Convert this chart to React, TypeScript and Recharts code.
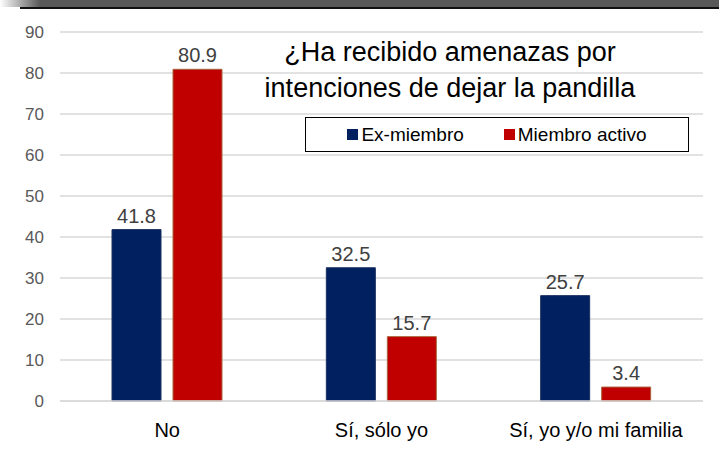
import { Bar, BarChart, CartesianGrid, LabelList, XAxis, YAxis } from "recharts";

const CATEGORIES = ["No", "Sí, sólo yo", "Sí, yo y/o mi familia"];
const EX_MIEMBRO = [41.8, 32.5, 25.7];
const MIEMBRO_ACTIVO = [80.9, 15.7, 3.4];
const Y_TICKS = [0, 10, 20, 30, 40, 50, 60, 70, 80, 90];

const SERIES = [
  { key: "ex", name: "Ex-miembro", color: "#002060", stroke: "#1a2f5e" },
  { key: "activo", name: "Miembro activo", color: "#C00000", stroke: "#a8643c" },
];

const data = CATEGORIES.map((c, i) => ({
  cat: c,
  ex: EX_MIEMBRO[i],
  activo: MIEMBRO_ACTIVO[i],
}));

const FONT = '"Liberation Sans", Arial, sans-serif';

// legend drawn as a plain box on top of the chart, so it doesn't eat plot space
function LegendBox() {
  return (
    <div
      style={{
        position: "absolute",
        left: 305,
        top: 117,
        width: 382,
        height: 33,
        border: "1px solid #000",
        background: "#fff",
        display: "flex",
        alignItems: "center",
        justifyContent: "center",
        gap: 40,
        fontFamily: FONT,
        fontSize: 19,
        color: "#000",
      }}
    >
      {SERIES.map((s) => (
        <span key={s.key} style={{ display: "flex", alignItems: "center" }}>
          <span
            style={{
              display: "inline-block",
              width: 11,
              height: 11,
              background: s.color,
              marginRight: 3,
            }}
          />
          {s.name}
        </span>
      ))}
    </div>
  );
}

export default function App() {
  return (
    <div
      style={{
        position: "absolute",
        left: 0,
        top: 0,
        width: 719,
        height: 458,
        background: "#fff",
        overflow: "hidden",
      }}
    >
      <div
        style={{
          position: "absolute",
          left: 0,
          top: 0,
          width: 719,
          height: 7,
          background: "linear-gradient(to right, #ffffff 0px, #595959 40px)",
        }}
      />
      <div
        style={{
          position: "absolute",
          left: 20,
          top: 7,
          width: 699,
          height: 2,
          background: "#111",
        }}
      />
      <BarChart
        width={719}
        height={458}
        data={data}
        margin={{ top: 32, right: 16, left: 0, bottom: 0 }}
        barSize={49}
        barGap={12}
      >
        <CartesianGrid vertical={false} stroke="#d9d9d9" strokeWidth={1.5} />
        <XAxis
          dataKey="cat"
          height={57}
          tickLine={false}
          axisLine={{ stroke: "#d9d9d9", strokeWidth: 1.5 }}
          tickMargin={16}
          tick={{ fill: "#000", fontSize: 20, fontFamily: FONT }}
        />
        <YAxis
          width={60}
          domain={[0, 90]}
          ticks={Y_TICKS}
          interval={0}
          axisLine={false}
          tickLine={false}
          tickMargin={10}
          tick={{ fill: "#595959", fontSize: 17, fontFamily: FONT }}
        />
        {SERIES.map((s) => (
          <Bar
            key={s.key}
            dataKey={s.key}
            name={s.name}
            fill={s.color}
            stroke={s.stroke}
            strokeWidth={1}
            isAnimationActive={false}
          >
            <LabelList
              dataKey={s.key}
              position="top"
              offset={7}
              fill="#404040"
              fontSize={20}
              fontFamily={FONT}
            />
          </Bar>
        ))}
      </BarChart>
      <LegendBox />
      <div
        style={{
          position: "absolute",
          left: 250,
          top: 34,
          width: 400,
          textAlign: "center",
          fontFamily: FONT,
          fontSize: 27,
          lineHeight: "36px",
          color: "#000",
          pointerEvents: "none",
        }}
      >
        ¿Ha recibido amenazas por
        <br />
        intenciones de dejar la pandilla
      </div>
    </div>
  );
}
